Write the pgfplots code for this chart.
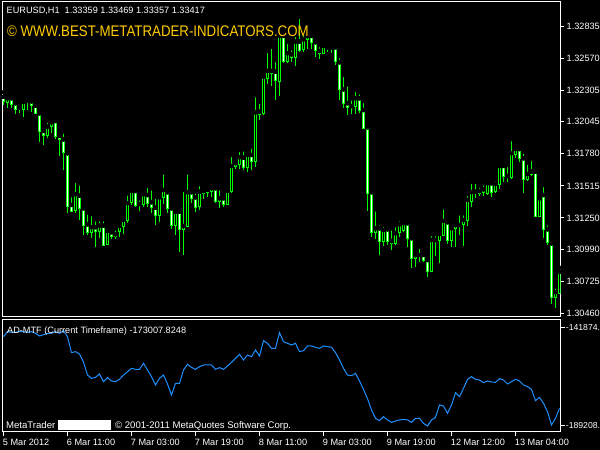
\documentclass[border=0pt]{standalone}
\usepackage{pgfplots}
\pgfplotsset{compat=1.18}
\usepackage{pgfplotstable}
\usepackage{graphicx}
\usepackage{fontspec}
\setmainfont{Liberation Sans}
\definecolor{mtlime}{RGB}{0,255,0}
\definecolor{mtblue}{RGB}{30,144,255}
\definecolor{mtgold}{RGB}{255,204,0}

\pgfplotstableread{
i o h l c
0 1.32251 1.32288 1.32183 1.32210
1 1.32202 1.32257 1.32155 1.32238
2 1.32238 1.32251 1.32155 1.32191
3 1.32197 1.32200 1.32106 1.32147
4 1.32147 1.32169 1.32114 1.32160
5 1.32147 1.32238 1.32086 1.32210
6 1.32216 1.32238 1.32141 1.32215
7 1.32213 1.32246 1.32122 1.32177
8 1.32177 1.32191 1.32106 1.32114
9 1.32114 1.32122 1.31880 1.31962
10 1.31968 1.31984 1.31852 1.31935
11 1.31932 1.32053 1.31908 1.32004
12 1.32004 1.32073 1.31949 1.32040
13 1.32050 1.32073 1.31899 1.31921
14 1.31927 1.31962 1.31761 1.31894
15 1.31899 1.31962 1.31646 1.31789
16 1.31784 1.31825 1.31288 1.31343
17 1.31357 1.31439 1.31296 1.31307
18 1.31315 1.31555 1.31293 1.31445
19 1.31434 1.31536 1.31233 1.31324
20 1.31329 1.31332 1.31109 1.31191
21 1.31197 1.31296 1.31109 1.31128
22 1.31128 1.31282 1.31082 1.31173
23 1.31173 1.31239 1.31012 1.31136
24 1.31136 1.31239 1.31088 1.31186
25 1.31186 1.31239 1.31018 1.31026
26 1.31032 1.31164 1.31026 1.31142
27 1.31131 1.31150 1.31076 1.31095
28 1.31095 1.31164 1.31076 1.31115
29 1.31136 1.31219 1.31095 1.31183
30 1.31177 1.31260 1.31117 1.31233
31 1.31225 1.31453 1.31210 1.31371
32 1.31376 1.31489 1.31357 1.31472
33 1.31472 1.31489 1.31343 1.31351
34 1.31365 1.31412 1.31310 1.31351
35 1.31363 1.31453 1.31343 1.31445
36 1.31439 1.31514 1.31343 1.31371
37 1.31379 1.31495 1.31293 1.31334
38 1.31334 1.31425 1.31191 1.31268
39 1.31268 1.31453 1.31219 1.31420
40 1.31420 1.31627 1.31365 1.31481
41 1.31462 1.31481 1.31293 1.31324
42 1.31329 1.31357 1.31156 1.31191
43 1.31191 1.31329 1.31109 1.31301
44 1.31301 1.31329 1.30971 1.31156
45 1.31156 1.31481 1.30944 1.31183
46 1.31177 1.31627 1.31173 1.31462
47 1.31462 1.31486 1.31371 1.31412
48 1.31420 1.31467 1.31301 1.31338
49 1.31343 1.31530 1.31315 1.31467
50 1.31472 1.31508 1.31404 1.31453
51 1.31458 1.31516 1.31425 1.31481
52 1.31467 1.31516 1.31425 1.31495
53 1.31495 1.31508 1.31371 1.31384
54 1.31384 1.31495 1.31329 1.31412
55 1.31412 1.31425 1.31343 1.31357
56 1.31363 1.31495 1.31357 1.31475
57 1.31472 1.31770 1.31458 1.31679
58 1.31673 1.31728 1.31652 1.31706
59 1.31695 1.31811 1.31652 1.31751
60 1.31747 1.31817 1.31646 1.31668
61 1.31665 1.31797 1.31632 1.31770
62 1.31770 1.31838 1.31646 1.31714
63 1.31714 1.32265 1.31673 1.32122
64 1.32127 1.32210 1.32059 1.32108
65 1.32114 1.32431 1.32100 1.32417
66 1.32403 1.32629 1.32356 1.32464
67 1.32464 1.32664 1.32340 1.32445
68 1.32458 1.32554 1.32224 1.32383
69 1.32375 1.32775 1.32257 1.32753
70 1.32753 1.32788 1.32527 1.32540
71 1.32540 1.32706 1.32527 1.32610
72 1.32601 1.32651 1.32540 1.32577
73 1.32577 1.32761 1.32507 1.32706
74 1.32706 1.32910 1.32618 1.32637
75 1.32643 1.32775 1.32623 1.32725
76 1.32725 1.32775 1.32643 1.32753
77 1.32753 1.32761 1.32643 1.32697
78 1.32701 1.32714 1.32582 1.32631
79 1.32610 1.32678 1.32560 1.32629
80 1.32610 1.32697 1.32604 1.32670
81 1.32659 1.32692 1.32618 1.32648
82 1.32648 1.32697 1.32610 1.32659
83 1.32659 1.32687 1.32513 1.32540
84 1.32535 1.32587 1.32224 1.32312
85 1.32312 1.32431 1.32160 1.32197
86 1.32197 1.32354 1.32100 1.32164
87 1.32174 1.32238 1.32108 1.32164
88 1.32169 1.32307 1.32108 1.32238
89 1.32238 1.32288 1.32119 1.32136
90 1.32141 1.32216 1.31984 1.31990
91 1.31999 1.32009 1.31310 1.31453
92 1.31462 1.31465 1.31095 1.31128
93 1.31128 1.31321 1.31073 1.31164
94 1.31164 1.31206 1.30944 1.31054
95 1.31054 1.31191 1.31018 1.31150
96 1.31156 1.31177 1.31026 1.31054
97 1.31059 1.31164 1.30985 1.31035
98 1.31035 1.31191 1.31026 1.31123
99 1.31128 1.31239 1.31090 1.31197
100 1.31144 1.31233 1.31136 1.31206
101 1.31206 1.31210 1.31007 1.31082
102 1.31082 1.31090 1.30834 1.30916
103 1.30911 1.30971 1.30842 1.30944
104 1.30944 1.31012 1.30888 1.30935
105 1.30944 1.30979 1.30888 1.30902
106 1.30902 1.30908 1.30765 1.30806
107 1.30806 1.31117 1.30800 1.31068
108 1.31068 1.31117 1.30935 1.31054
109 1.31062 1.31142 1.30875 1.31117
110 1.31109 1.31338 1.31101 1.31225
111 1.31214 1.31227 1.31035 1.31062
112 1.31062 1.31177 1.31012 1.31164
113 1.31164 1.31206 1.31007 1.31191
114 1.31191 1.31288 1.31109 1.31183
115 1.31197 1.31288 1.31021 1.31233
116 1.31227 1.31448 1.31186 1.31398
117 1.31390 1.31549 1.31343 1.31462
118 1.31458 1.31549 1.31412 1.31467
119 1.31453 1.31516 1.31431 1.31472
120 1.31458 1.31536 1.31431 1.31486
121 1.31453 1.31569 1.31439 1.31536
122 1.31536 1.31563 1.31425 1.31462
123 1.31467 1.31569 1.31453 1.31530
124 1.31528 1.31709 1.31489 1.31679
125 1.31679 1.31681 1.31544 1.31590
126 1.31596 1.31687 1.31549 1.31582
127 1.31582 1.31902 1.31569 1.31784
128 1.31778 1.31844 1.31742 1.31819
129 1.31819 1.31844 1.31714 1.31737
130 1.31742 1.31797 1.31458 1.31569
131 1.31569 1.31706 1.31557 1.31613
132 1.31610 1.31737 1.31596 1.31632
133 1.31632 1.31640 1.31255 1.31260
134 1.31260 1.31448 1.31255 1.31412
135 1.31439 1.31522 1.31082 1.31156
136 1.31156 1.31206 1.31026 1.31045
137 1.31040 1.31043 1.30539 1.30594
138 1.30594 1.30682 1.30503 1.30636
139 1.30627 1.30839 1.30625 1.30806
}\candles

\pgfplotstableread{
i v
0 -146381
1 -143981
2 -144301
3 -144301
4 -143981
5 -143981
6 -144301
7 -143981
8 -144781
9 -146061
10 -145421
11 -144781
12 -144781
13 -143981
14 -144781
15 -143501
16 -146381
17 -154061
18 -153581
19 -154701
20 -158541
21 -164781
22 -166381
23 -165901
24 -164301
25 -167981
26 -166061
27 -167661
28 -167981
29 -166861
30 -164781
31 -163181
32 -161581
33 -162061
34 -162061
35 -159181
36 -162381
37 -165581
38 -169581
39 -166381
40 -164781
41 -169101
42 -174381
43 -168781
44 -168781
45 -162381
46 -159661
47 -161101
48 -162061
49 -160781
50 -159981
51 -159981
52 -159981
53 -162061
54 -161261
55 -162061
56 -160461
57 -158701
58 -156781
59 -154861
60 -157581
61 -155181
62 -155981
63 -152781
64 -155661
65 -148301
66 -149581
67 -151981
68 -151981
69 -144461
70 -148781
71 -149581
72 -150381
73 -149581
74 -153581
75 -153101
76 -150861
77 -150861
78 -151501
79 -151981
80 -150861
81 -151181
82 -151501
83 -154061
84 -157581
85 -161581
86 -164781
87 -165101
88 -163981
89 -167661
90 -171661
91 -176141
92 -181581
93 -185581
94 -186701
95 -184781
96 -186381
97 -187501
98 -186861
99 -186381
100 -186061
101 -186381
102 -187501
103 -185581
104 -185581
105 -187981
106 -189261
107 -186381
108 -185101
109 -179181
110 -179661
111 -183181
112 -179181
113 -173261
114 -175181
115 -171181
116 -166861
117 -165581
118 -166861
119 -167181
120 -168461
121 -167661
122 -168141
123 -168301
124 -166541
125 -167181
126 -169101
127 -167981
128 -166861
129 -167661
130 -169581
131 -170381
132 -171661
133 -177101
134 -175501
135 -178381
136 -182381
137 -188781
138 -185581
139 -180781
}\adline

\begin{document}
\begin{tikzpicture}
\fill[black] (0bp,0bp) rectangle (600bp,450bp);
\path[use as bounding box] (0bp,0bp) rectangle (600bp,450bp);

\begin{axis}[
  at={(2.5bp,133.5bp)}, anchor=south west, scale only axis,
  width=558bp, height=315bp,
  xmin=-0.25, xmax=139.25, ymin=1.30436, ymax=1.33038,
  axis line style={white, line width=1bp},
  xtick=\empty,
  ytick={1.32835,1.32570,1.32305,1.32045,1.31780,1.31515,1.31250,1.30990,1.30725,1.30460},
  yticklabels={1.32835,1.32570,1.32305,1.32045,1.31780,1.31515,1.31250,1.30990,1.30725,1.30460},
  ytick pos=right, tick align=outside, major tick length=3bp,
  tick style={white, line width=1bp},
  yticklabel style={text=white, font=\fontsize{9.2}{10}\selectfont, inner sep=0pt, anchor=west, xshift=3bp},
  scaled y ticks=false,
]
\addplot[only marks, mark=none,
  error bars/.cd, y dir=minus, y explicit, error mark=none,
  error bar style={draw=mtlime, line width=1bp}]
  table[x=i, y=h, y error expr={\thisrow{h}-\thisrow{l}}] {\candles};
\addplot[only marks, mark=none,
  error bars/.cd, y dir=minus, y explicit, error mark=none,
  error bar style={draw=mtlime, line width=3bp, shorten <=-0.5bp, shorten >=-0.5bp}]
  table[x=i, y expr={max(\thisrow{o},\thisrow{c})}, y error expr={abs(\thisrow{o}-\thisrow{c})}] {\candles};
\addplot[only marks, mark=none,
  restrict expr to domain={\thisrow{o}-\thisrow{c}}{0.00011:1},
  error bars/.cd, y dir=minus, y explicit, error mark=none,
  error bar style={draw=white, line width=1bp, shorten <=0.5bp, shorten >=0.5bp}]
  table[x=i, y=o, y error expr={\thisrow{o}-\thisrow{c}}] {\candles};
\addplot[only marks, mark=none,
  restrict expr to domain={\thisrow{c}-\thisrow{o}}{0.00011:1},
  error bars/.cd, y dir=minus, y explicit, error mark=none,
  error bar style={draw=black, line width=1bp, shorten <=0.5bp, shorten >=0.5bp}]
  table[x=i, y=c, y error expr={\thisrow{c}-\thisrow{o}}] {\candles};
\end{axis}

\begin{axis}[
  at={(2.5bp,18.5bp)}, anchor=south west, scale only axis,
  width=558bp, height=112bp,
  xmin=-0.25, xmax=139.25, ymin=-191901, ymax=-138141,
  axis line style={white, line width=1bp},
  xtick={0,16,32,48,64,80,96,112,128},
  xticklabels={5 Mar 2012,6 Mar 11:00,7 Mar 03:00,7 Mar 19:00,8 Mar 11:00,9 Mar 03:00,9 Mar 19:00,12 Mar 12:00,13 Mar 04:00},
  ytick={-141874,-189208},
  yticklabels={-141874.,-189208.},
  xtick pos=left, ytick pos=right, tick align=outside, major tick length=4bp,
  tick style={white, line width=1bp},
  yticklabel style={text=white, font=\fontsize{8.7}{10}\selectfont, inner sep=0pt, anchor=west, xshift=1.2bp},
  xticklabel style={text=white, font=\fontsize{9.2}{10}\selectfont, inner sep=0pt, anchor=north west, xshift=-0.8bp, yshift=-3bp},
  scaled y ticks=false,
]
\addplot[mtblue, line width=1bp, mark=none] table[x=i, y=v] {\adline};
\end{axis}

\node[anchor=base west, inner sep=0pt, text=white, font=\fontsize{9.2}{10}\selectfont] at (6.5bp,436bp) {EURUSD,H1\ \ 1.33359 1.33469 1.33357 1.33417};
\node[anchor=base west, inner sep=0pt, text=mtgold, font=\fontsize{15.4}{16}\selectfont] at (7bp,413.5bp) {\scalebox{0.865}[1]{© WWW.BEST-METATRADER-INDICATORS.COM}};
\node[anchor=base west, inner sep=0pt, text=white, font=\fontsize{9.2}{10}\selectfont] at (7bp,116.7bp) {AD-MTF (Current Timeframe) -173007.8248};
\node[anchor=base west, inner sep=0pt, text=white, font=\fontsize{9.6}{10}\selectfont] at (6bp,21.7bp) {MetaTrader};
\fill[white] (58.3bp,20bp) rectangle (111bp,30bp);
\node[anchor=base west, inner sep=0pt, text=white, font=\fontsize{9.6}{10}\selectfont] at (115bp,21.7bp) {© 2001-2011 MetaQuotes Software Corp.};
\end{tikzpicture}
\end{document}
